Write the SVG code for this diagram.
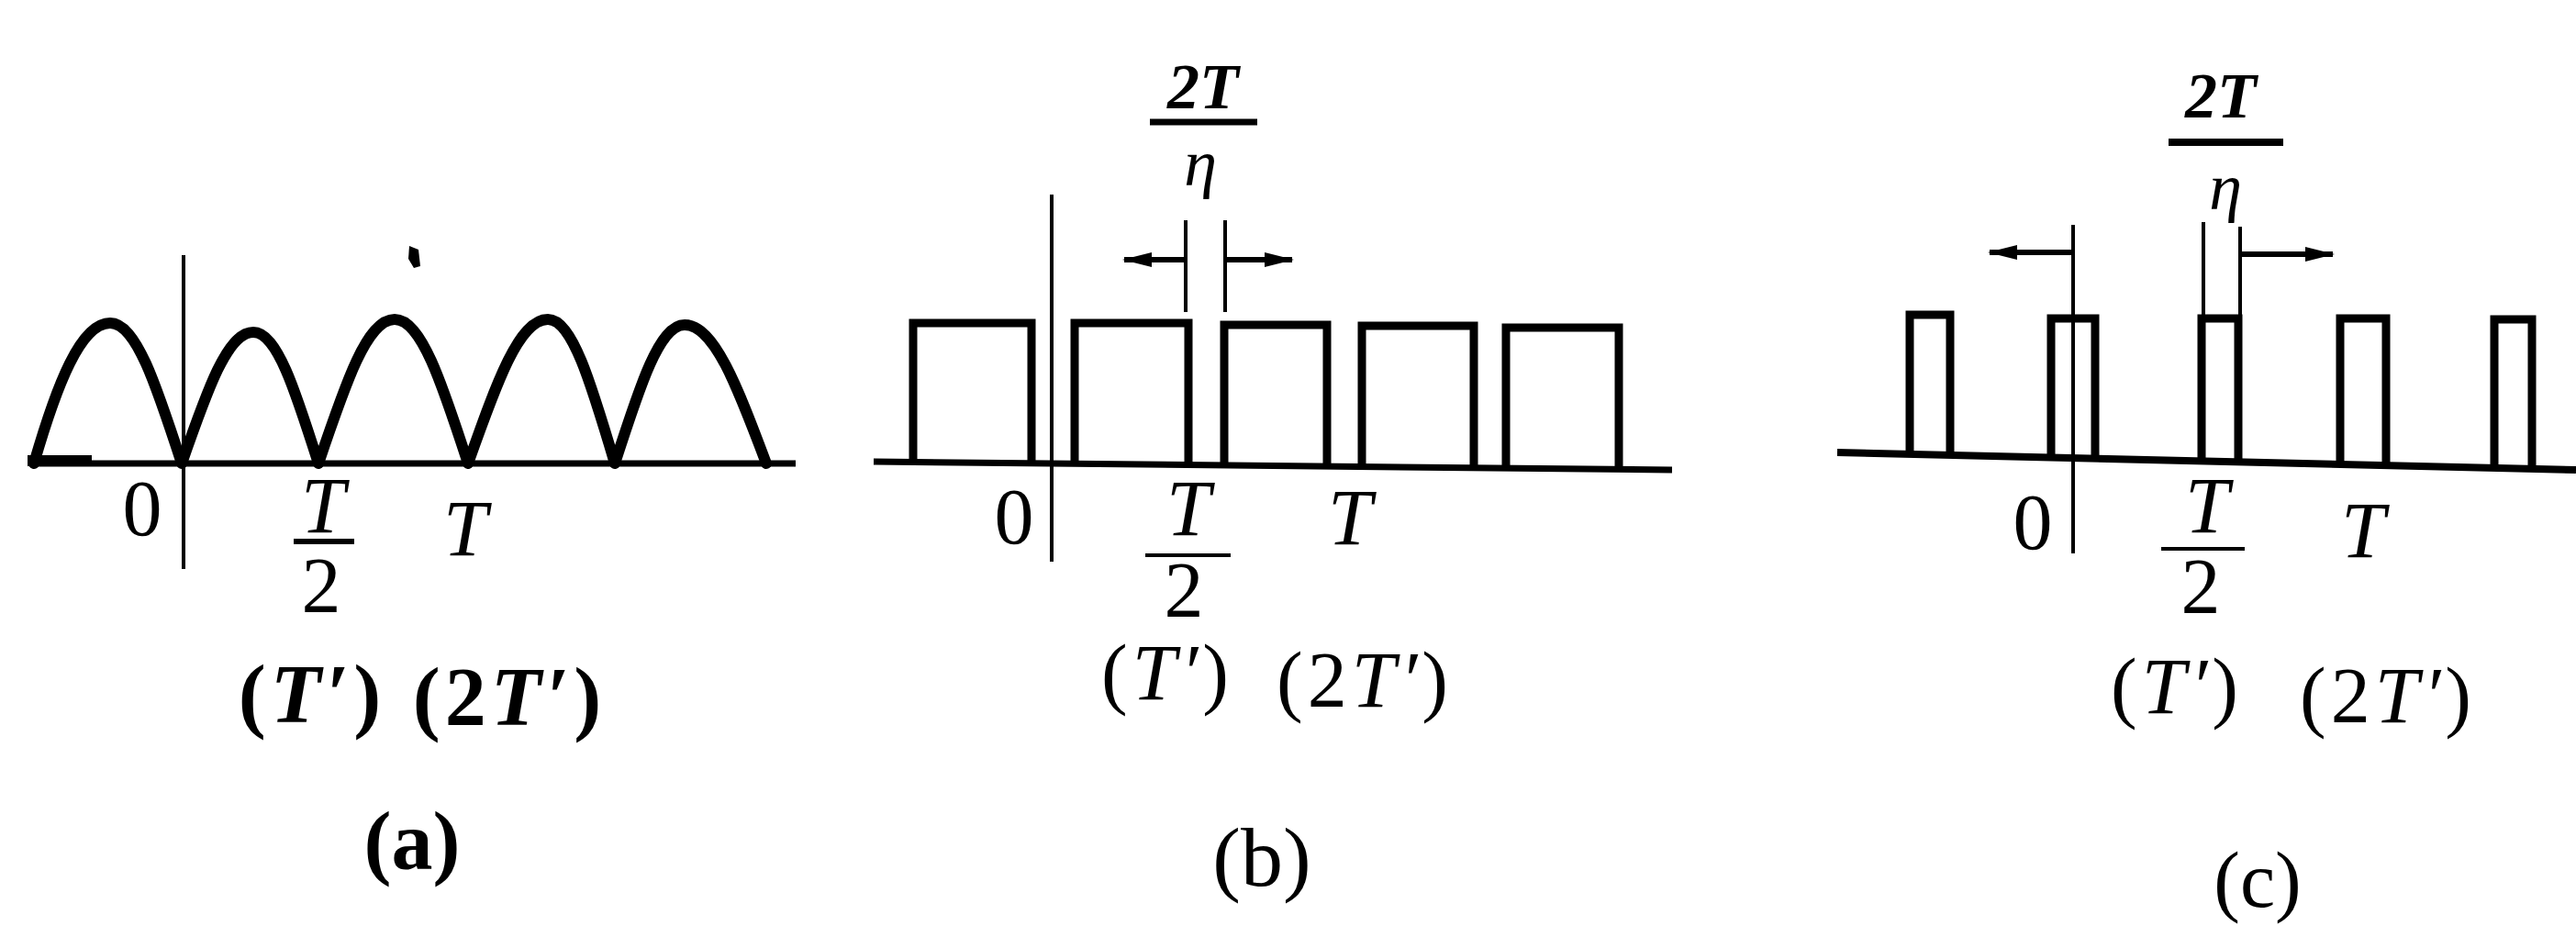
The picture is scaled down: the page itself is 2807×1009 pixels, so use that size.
<svg xmlns="http://www.w3.org/2000/svg" width="2807" height="1009" viewBox="0 0 2807 1009">
<defs>
<style>
.ln{stroke:#000;fill:none;stroke-linejoin:miter;stroke-linecap:butt}
.arch{stroke:#000;fill:none;stroke-width:12;stroke-linejoin:round;stroke-linecap:round}
.pulse{stroke:#000;fill:none;stroke-width:9;stroke-linejoin:miter}
.base{stroke:#000;fill:none;stroke-width:7}
.axis{stroke:#000;fill:none;stroke-width:4}
.bar{stroke:#000;fill:none;stroke-width:5}
.t{font-family:"Liberation Serif","Times New Roman",serif;fill:#000;font-size:86px}
.it{font-style:italic}
.b{font-weight:bold}
.lab{letter-spacing:5px}
</style>
<marker id="ah" markerUnits="userSpaceOnUse" markerWidth="32" markerHeight="18" viewBox="0 0 32 18" refX="30" refY="9" orient="auto">
<path d="M0,1 L32,9 L0,17 z" fill="#000"/>
</marker>
</defs>
<rect width="2807" height="1009" fill="#fff"/>

<g id="panel-a">
<path class="base" d="M37,505 H867"/>
<path class="base" d="M30,502 H100" style="stroke-width:12"/>
<path class="axis" d="M200,278 V620"/>
<path class="arch" d="M37,505 C62,418.6 88,352 120,352 C148.1,352 169.9,418.6 198,505 C226.1,424.2 247.9,362 276,362 C301.6,362 321.4,424.2 347,505 C376.9,416.3 400.1,348 430,348 C458.8,348 481.2,416.3 510,505 C541.3,416.3 565.7,348 597,348 C623.3,348 643.7,416.3 670,505 C697.4,419.7 718.6,354 746,354 C778,354 803,419.7 835,505"/>
<path d="M446,268 L456,272 L458,290 L451,292 L445,282 Z" fill="#000"/>
<text class="t" x="155" y="583" text-anchor="middle">0</text>
<text class="t it" x="352" y="580" text-anchor="middle">T</text>
<path class="bar" d="M320,590 H386" style="stroke-width:6"/>
<text class="t" x="350" y="667" text-anchor="middle">2</text>
<text class="t it" x="507" y="605" text-anchor="middle">T</text>
<text class="t b lab" x="340" y="787" text-anchor="middle" style="font-size:90px">(<tspan class="it">T′</tspan>)</text>
<text class="t b lab" x="555" y="790" text-anchor="middle" style="font-size:90px">(2<tspan class="it">T′</tspan>)</text>
<text class="t b" x="449" y="947" text-anchor="middle" style="font-size:90px">(a)</text>
</g>

<g id="panel-b">
<path class="base" d="M952,503 L1822,512"/>
<path class="axis" d="M1146,212 V612"/>
<path class="pulse" d="M995,504 V352 H1124 V505"/>
<path class="pulse" d="M1171,505 V352 H1295 V507"/>
<path class="pulse" d="M1334,507 V354 H1446 V508"/>
<path class="pulse" d="M1484,509 V355 H1606 V510"/>
<path class="pulse" d="M1641,510 V357 H1764 V511"/>
<text class="t b it" x="1311" y="118" text-anchor="middle" style="font-size:70px">2T</text>
<path class="bar" d="M1253,133 H1370" style="stroke-width:7"/>
<text class="t it" x="1308" y="202" text-anchor="middle" style="font-size:72px">η</text>
<text class="t" x="1105" y="592" text-anchor="middle">0</text>
<text class="t it" x="1295" y="583" text-anchor="middle">T</text>
<path class="bar" d="M1248,605 H1341" style="stroke-width:4"/>
<text class="t" x="1290" y="672" text-anchor="middle">2</text>
<text class="t it" x="1471" y="593" text-anchor="middle">T</text>
<text class="t lab" x="1272" y="762" text-anchor="middle">(<tspan class="it">T′</tspan>)</text>
<text class="t lab" x="1487" y="770" text-anchor="middle">(2<tspan class="it">T′</tspan>)</text>
<text class="t" x="1375" y="965" text-anchor="middle" style="font-size:92px">(b)</text>
</g>

<g id="panel-c">
<path class="base" d="M2002,493 L2807,512" style="stroke-width:8"/>
<path class="axis" d="M2259,245 V603"/>
<path class="pulse" d="M2081,495 V343 H2125 V496"/>
<path class="pulse" d="M2235,499 V347 H2283 V500"/>
<path class="pulse" d="M2399,503 V347 H2439 V504"/>
<path class="pulse" d="M2550,506 V347 H2600 V507"/>
<path class="pulse" d="M2718,510 V348 H2759 V511"/>
<text class="t b it" x="2420" y="128" text-anchor="middle" style="font-size:70px">2T</text>
<path class="bar" d="M2363,155 H2488" style="stroke-width:8"/>
<text class="t it" x="2425" y="228" text-anchor="middle" style="font-size:72px">η</text>
<text class="t" x="2215" y="598" text-anchor="middle">0</text>
<text class="t it" x="2405" y="580" text-anchor="middle">T</text>
<path class="bar" d="M2355,598 H2446" style="stroke-width:4"/>
<text class="t" x="2398" y="668" text-anchor="middle">2</text>
<text class="t it" x="2575" y="607" text-anchor="middle">T</text>
<text class="t lab" x="2372" y="777" text-anchor="middle">(<tspan class="it">T′</tspan>)</text>
<text class="t lab" x="2602" y="787" text-anchor="middle">(2<tspan class="it">T′</tspan>)</text>
<text class="t" x="2460" y="988" text-anchor="middle">(c)</text>
</g>

<g id="connectors">
<path class="axis" d="M1292,240 V340"/>
<path class="axis" d="M1335,240 V340"/>
<path class="ln" d="M1290,283 H1225" style="stroke-width:6" marker-end="url(#ah)"/>
<path class="ln" d="M1335,283 H1408" style="stroke-width:6" marker-end="url(#ah)"/>
<path class="axis" d="M2401,242 V347"/>
<path class="axis" d="M2441,247 V347"/>
<path class="ln" d="M2259,275 H2168" style="stroke-width:6" marker-end="url(#ah)"/>
<path class="ln" d="M2443,277 H2542" style="stroke-width:6" marker-end="url(#ah)"/>
</g>
</svg>
